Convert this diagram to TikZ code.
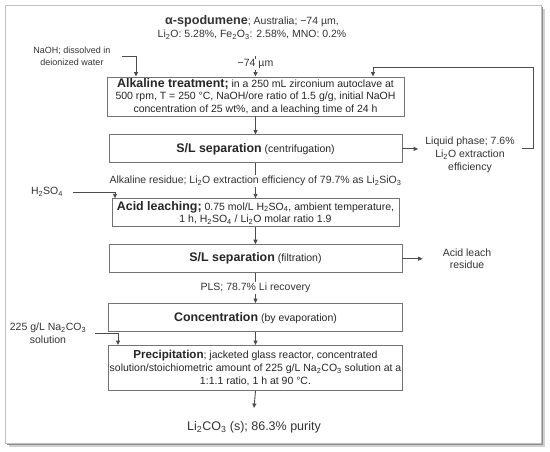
\documentclass[tikz,border=0pt]{standalone}
\usepackage{fontspec}
\setmainfont{Liberation Sans}
\usetikzlibrary{arrows.meta, positioning, calc}
\tikzset{%
	box/.style={draw=black!55, line width=0.9pt, rectangle, align=center,%
		inner sep=1pt, fill=white, text=black!85},
	lbl/.style={align=center, inner sep=1pt, text=black!80},
	flow/.style={draw=black!70, line width=0.9pt, -{Triangle[length=4.5pt, width=4pt]}},
	frame/.style={draw=black!25, fill=white, line width=0.6pt}
}
\newcommand{\bname}[2][12.4]{{\fontsize{#1}{12.5}\selectfont\bfseries #2}}
\newcommand{\chem}[1]{\textsubscript{#1}}

\begin{document}
\begin{tikzpicture}[x=1pt, y=-1pt, font=\fontsize{10.5}{12.5}\selectfont]
	%frame
	\useasboundingbox (0,0) rectangle (550,452);
	\fill [black!18] (9,9) rectangle (544.5,446.5);
	\fill [black!45] (7,7) rectangle (543,445);
	\draw [frame] (5,5) rectangle (541,443);

	%inputs
	\node [lbl] (ore) at (252,27.5) {\bname[12.6]{α-spodumene}; Australia; −74 µm,\\
		Li\chem{2}O: 5.28\%, Fe\chem{2}O\chem{3}: 2.58\%, MNO: 0.2\%};
	\node [lbl, font=\fontsize{9}{12}\selectfont] (naoh) at (72,56.5) {NaOH; dissolved in\\deionized water};
	\node [lbl] (h2so4) at (47,192) {H\chem{2}SO\chem{4}};
	\node [lbl, font=\fontsize{10.5}{13}\selectfont] (naco) at (48,333.5) {225 g/L Na\chem{2}CO\chem{3}\\solution};

	%stages
	\node [box, minimum width=297pt, minimum height=39pt] (alk) at (255.5,96.5)
		{\bname{Alkaline treatment;} in a 250 mL zirconium autoclave at\\
		500 rpm, T = 250 °C, NaOH/ore ratio of 1.5 g/g, initial NaOH\\
		concentration of 25 wt\%, and a leaching time of 24 h};
	\node [box, minimum width=293pt, minimum height=28pt, below=18pt of alk] (sl1)
		{\bname{S/L separation} (centrifugation)};
	\node [box, minimum width=287pt, minimum height=28pt, below=35pt of sl1] (acid)
		{\bname{Acid leaching;} 0.75 mol/L H\chem{2}SO\chem{4}, ambient temperature,\\
		1 h, H\chem{2}SO\chem{4} / Li\chem{2}O molar ratio 1.9};
	\node [box, minimum width=293pt, minimum height=28pt, below=17pt of acid] (sl2)
		{\bname{S/L separation} (filtration)};
	\node [box, minimum width=294pt, minimum height=28pt, below=30pt of sl2] (conc)
		{\bname{Concentration} (by evaporation)};
	\node [box, minimum width=294pt, minimum height=45pt, below=13pt of conc,
		font=\fontsize{10.5}{13}\selectfont] (prec)
		{\bname[11.6]{Precipitation}; jacketed glass reactor, concentrated\\
		solution/stoichiometric amount of 225 g/L Na\chem{2}CO\chem{3} solution at a\\
		1:1.1 ratio, 1 h at 90 °C.};

	%outputs
	\node [lbl, font=\fontsize{10.5}{13}\selectfont] (liq) at (470,155)
		{Liquid phase; 7.6\%\\Li\chem{2}O extraction\\efficiency};
	\node [lbl, font=\fontsize{10.5}{12}\selectfont] (res) at (467,259) {Acid leach\\residue};
	\node [lbl, font=\fontsize{12.5}{14}\selectfont] (prod) at (254,427) {Li\chem{2}CO\chem{3} (s); 86.3\% purity};

	%main line
	\coordinate (feed) at (255.5,56);
	\draw [flow] (feed) -- node[lbl, fill=white, pos=0.4]{−74 µm} (alk.north);
	\draw [flow] (alk.south) -- (sl1.north);
	\draw [flow] (sl1.south) -- node[lbl, fill=white]
		{Alkaline residue; Li\chem{2}O extraction efficiency of 79.7\% as Li\chem{2}SiO\chem{3}} (acid.north);
	\draw [flow] (acid.south) -- (sl2.north);
	\draw [flow] (sl2.south) -- node[lbl, fill=white]{PLS; 78.7\% Li recovery} (conc.north);
	\draw [flow] (conc.south) -- (prec.north);
	\draw [flow] (prec.south) -- ([yshift=12pt]prod.north);

	%reagents
	\draw [flow] ([xshift=10pt]naoh.east) -| ([xshift=-119.5pt]alk.north);
	\draw [flow] ([xshift=8.5pt]h2so4.east) -| ([xshift=-140.5pt]acid.north);
	\draw [flow] ([xshift=8pt]naco.east) -| ([xshift=-137.5pt]prec.north);

	%side streams
	\coordinate (ret) at (533,67);
	\draw [flow] (sl1.east) -- ([xshift=-6pt]liq.west |- sl1.east);
	\draw [flow] ([xshift=6pt]liq.east |- sl1.east) -| (ret) -| ([xshift=117.5pt]alk.north);
	\draw [flow] (sl2.east) -- ([xshift=-19pt]res.west |- sl2.east);
\end{tikzpicture}
\end{document}
